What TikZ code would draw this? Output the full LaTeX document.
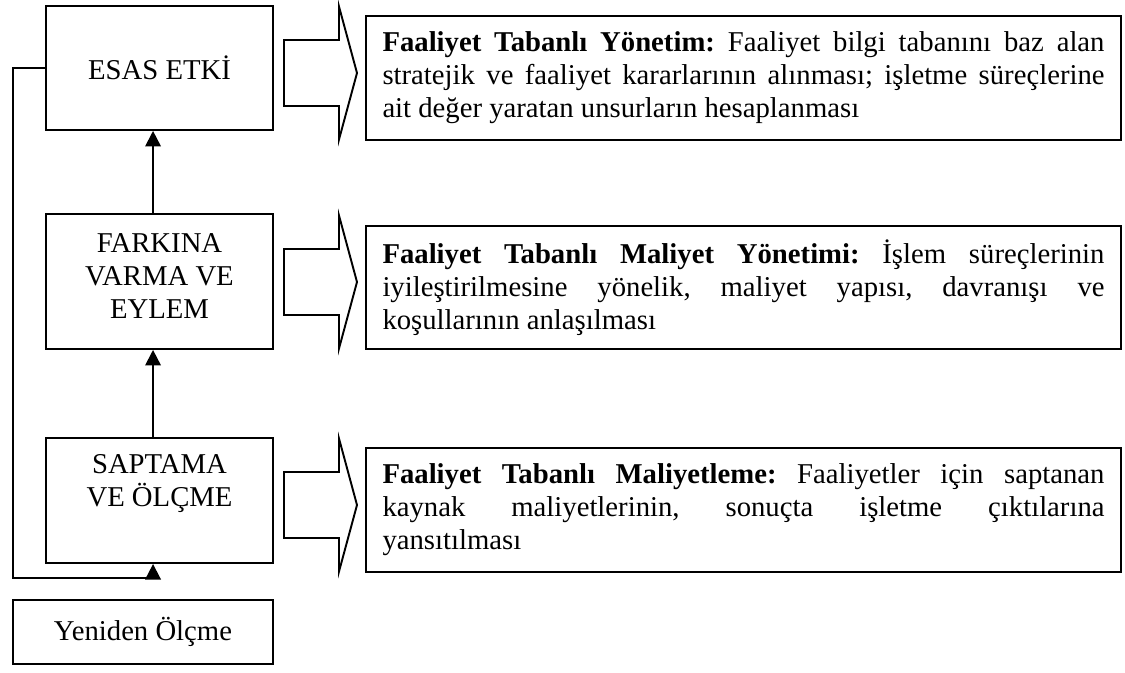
\documentclass[tikz,border=0pt]{standalone}
\usepackage{fontspec}
\setmainfont{Liberation Serif}
\usetikzlibrary{arrows.meta}
\frenchspacing
\tolerance=10000
\begin{document}
\begin{tikzpicture}[x=0.418pt,y=-0.418pt,
  txt/.style={font=\fontsize{12}{13.8}\selectfont},
  box/.style={draw, line width=0.8pt, inner sep=0pt},
  lbox/.style={box, minimum width=94.9pt},
  rbox/.style={box, txt, minimum width=315.6pt, text width=301.8pt, align=justify},
  ltext/.style={txt, align=center, inner sep=0pt},
  conn/.style={line width=0.8pt, -{Triangle[length=6.5pt,width=6.5pt]}},
  blk/.style={line width=0.8pt, line join=miter},
  blockarrow/.pic={\draw[blk] (0,-33) -- (55,-33) -- (55,-66.5) -- (73,0)
    -- (55,66.5) -- (55,33) -- (0,33) -- cycle;}]
\useasboundingbox (0,0) rectangle (1125,672);

% stages of the cycle
\node[lbox, minimum height=51.8pt] (esas) at (159.5,68) {};
\node[ltext] (esas-t) at (159.5,68) {ESAS ETKİ};
\node[lbox, minimum height=56.4pt] (farkina) at (159.5,281.5) {};
\node[ltext] (farkina-t) at (159.5,276) {FARKINA\\VARMA VE\\EYLEM};
\node[lbox, minimum height=52.3pt] (saptama) at (159.5,500.5) {};
\node[ltext] (saptama-t) at (159.5,484) {SAPTAMA\\VE ÖLÇME};
\node[box, txt, minimum width=108.7pt, minimum height=26.8pt] (yeniden)
  at (143,632) {Yeniden Ölçme};

% upward flow between stages
\draw[conn] ([xshift=-2.7pt]saptama.north) -- ([xshift=-2.7pt]farkina.south);
\draw[conn] ([xshift=-2.7pt]farkina.north) -- ([xshift=-2.7pt]esas.south);

% re-measurement loop
\coordinate (loop) at (13,578);
\draw[conn] (esas.west) -| (loop) -| ([xshift=-2.7pt]saptama.south);

% block arrows towards the descriptions
\pic at (284,73) {blockarrow};
\pic at (284,282) {blockarrow};
\pic at (284,505) {blockarrow};

% descriptions
\node[rbox, minimum height=51.8pt] (r1) at (743.5,78) {%
\textbf{Faaliyet Tabanlı Yönetim:} Faaliyet bilgi tabanını baz alan\linebreak
stratejik ve faaliyet kararlarının alınması; işletme süreçlerine\linebreak
ait değer yaratan unsurların hesaplanması};
\node[rbox, minimum height=51.4pt] (r2) at (743.5,287.5) {%
\textbf{Faaliyet Tabanlı Maliyet Yönetimi:} İşlem süreçlerinin\linebreak
iyileştirilmesine yönelik, maliyet yapısı, davranışı ve\linebreak
koşullarının anlaşılması};
\node[rbox, minimum height=51.8pt] (r3) at (743.5,510) {%
\textbf{Faaliyet Tabanlı Maliyetleme:} Faaliyetler için saptanan\linebreak
kaynak maliyetlerinin, sonuçta işletme çıktılarına\linebreak
yansıtılması};
\end{tikzpicture}
\end{document}
